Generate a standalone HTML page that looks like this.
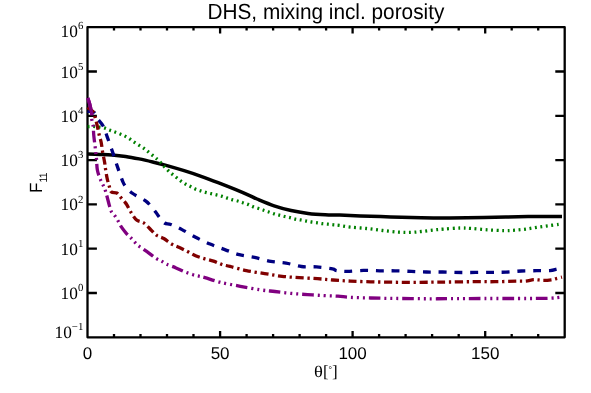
<!DOCTYPE html>
<html><head><meta charset="utf-8"><title>DHS, mixing incl. porosity</title>
<style>html,body{margin:0;padding:0;background:#fff}svg{display:block;will-change:transform;text-rendering:geometricPrecision}</style></head>
<body>
<svg width="591" height="393" viewBox="0 0 591 393">
<rect width="591" height="393" fill="#fff"/>
<g stroke="#000" stroke-width="2.3" fill="none" stroke-linecap="butt" stroke-linejoin="round">
<rect x="87.5" y="27.2" width="477.2" height="310.1"/>
<path d="M114.0 337.3 V334.1 M114.0 27.2 V30.4"/>
<path d="M140.5 337.3 V334.1 M140.5 27.2 V30.4"/>
<path d="M167.0 337.3 V334.1 M167.0 27.2 V30.4"/>
<path d="M193.5 337.3 V334.1 M193.5 27.2 V30.4"/>
<path d="M220.1 337.3 V331.1 M220.1 27.2 V33.4"/>
<path d="M246.6 337.3 V334.1 M246.6 27.2 V30.4"/>
<path d="M273.1 337.3 V334.1 M273.1 27.2 V30.4"/>
<path d="M299.6 337.3 V334.1 M299.6 27.2 V30.4"/>
<path d="M326.1 337.3 V334.1 M326.1 27.2 V30.4"/>
<path d="M352.6 337.3 V331.1 M352.6 27.2 V33.4"/>
<path d="M379.1 337.3 V334.1 M379.1 27.2 V30.4"/>
<path d="M405.6 337.3 V334.1 M405.6 27.2 V30.4"/>
<path d="M432.1 337.3 V334.1 M432.1 27.2 V30.4"/>
<path d="M458.7 337.3 V334.1 M458.7 27.2 V30.4"/>
<path d="M485.2 337.3 V331.1 M485.2 27.2 V33.4"/>
<path d="M511.7 337.3 V334.1 M511.7 27.2 V30.4"/>
<path d="M538.2 337.3 V334.1 M538.2 27.2 V30.4"/>
<path d="M87.5 293.0 H96.9 M564.7 293.0 H555.3"/>
<path d="M87.5 248.7 H96.9 M564.7 248.7 H555.3"/>
<path d="M87.5 204.4 H96.9 M564.7 204.4 H555.3"/>
<path d="M87.5 160.1 H96.9 M564.7 160.1 H555.3"/>
<path d="M87.5 115.8 H96.9 M564.7 115.8 H555.3"/>
<path d="M87.5 71.5 H96.9 M564.7 71.5 H555.3"/>
</g>
<g fill="none" stroke-linejoin="round">
<path d="M87.50 154.10 C89.58 154.15 95.92 154.27 100.00 154.40 C104.08 154.53 107.73 154.57 112.00 154.90 C116.27 155.23 121.08 155.73 125.60 156.40 C130.12 157.07 134.58 157.97 139.10 158.90 C143.62 159.83 148.05 160.88 152.70 162.00 C157.35 163.12 161.77 164.15 167.00 165.60 C172.23 167.05 178.42 168.92 184.10 170.70 C189.78 172.48 195.43 174.32 201.10 176.30 C206.77 178.28 212.42 180.42 218.10 182.60 C223.78 184.78 229.93 187.23 235.20 189.40 C240.47 191.57 246.07 194.00 249.70 195.60 C253.33 197.20 252.93 197.30 257.00 199.00 C261.07 200.70 268.42 203.88 274.10 205.80 C279.78 207.72 285.43 209.23 291.10 210.50 C296.77 211.77 302.42 212.68 308.10 213.40 C313.78 214.12 319.93 214.52 325.20 214.80 C330.47 215.08 333.82 214.92 339.70 215.10 C345.58 215.28 351.97 215.60 360.50 215.90 C369.03 216.20 380.75 216.60 390.90 216.90 C401.05 217.20 411.58 217.53 421.40 217.70 C431.22 217.87 439.37 217.95 449.80 217.90 C460.23 217.85 470.97 217.62 484.00 217.40 C497.03 217.18 515.00 216.73 528.00 216.60 C541.00 216.47 556.33 216.60 562.00 216.60" stroke="#000" stroke-width="3.5" stroke-linecap="butt"/>
<path d="M87.70 126.60 C88.58 126.57 91.28 126.35 93.00 126.40 C94.72 126.45 96.18 126.65 98.00 126.90 C99.82 127.15 102.00 127.38 103.90 127.90 C105.80 128.42 107.70 129.37 109.40 130.00 C111.10 130.63 112.42 131.08 114.10 131.70 C115.78 132.32 117.82 133.03 119.50 133.70 C121.18 134.37 122.62 134.92 124.20 135.70 C125.78 136.48 127.42 137.38 129.00 138.40 C130.58 139.42 132.12 140.72 133.70 141.80 C135.28 142.88 136.92 143.88 138.50 144.90 C140.08 145.92 141.75 146.88 143.20 147.90 C144.65 148.92 145.73 149.83 147.20 151.00 C148.67 152.17 150.53 153.70 152.00 154.90 C153.47 156.10 154.65 157.03 156.00 158.20 C157.35 159.37 158.83 160.62 160.10 161.90 C161.37 163.18 162.30 164.50 163.60 165.90 C164.90 167.30 166.48 168.93 167.90 170.30 C169.32 171.67 170.68 172.90 172.10 174.10 C173.52 175.30 174.97 176.37 176.40 177.50 C177.83 178.63 179.20 179.82 180.70 180.90 C182.20 181.98 183.85 183.10 185.40 184.00 C186.95 184.90 188.38 185.48 190.00 186.30 C191.62 187.12 193.38 188.15 195.10 188.90 C196.82 189.65 198.58 190.23 200.30 190.80 C202.02 191.37 203.62 191.82 205.40 192.30 C207.18 192.78 209.17 193.27 211.00 193.70 C212.83 194.13 214.63 194.48 216.40 194.90 C218.17 195.32 219.88 195.70 221.60 196.20 C223.32 196.70 225.00 197.33 226.70 197.90 C228.40 198.47 229.97 199.08 231.80 199.60 C233.63 200.12 235.87 200.48 237.70 201.00 C239.53 201.52 241.08 202.13 242.80 202.70 C244.52 203.27 246.33 203.75 248.00 204.40 C249.67 205.05 251.15 205.95 252.80 206.60 C254.45 207.25 256.20 207.73 257.90 208.30 C259.60 208.87 261.30 209.43 263.00 210.00 C264.70 210.57 266.25 211.07 268.10 211.70 C269.95 212.33 272.25 213.23 274.10 213.80 C275.95 214.37 277.45 214.65 279.20 215.10 C280.95 215.55 282.75 216.07 284.60 216.50 C286.45 216.93 288.50 217.27 290.30 217.70 C292.10 218.13 293.70 218.73 295.40 219.10 C297.10 219.47 298.67 219.57 300.50 219.90 C302.33 220.23 304.55 220.75 306.40 221.10 C308.25 221.45 309.75 221.72 311.60 222.00 C313.45 222.28 315.67 222.52 317.50 222.80 C319.33 223.08 320.82 223.47 322.60 223.70 C324.38 223.93 326.35 224.00 328.20 224.20 C330.05 224.40 331.88 224.70 333.70 224.90 C335.52 225.10 336.33 225.03 339.10 225.40 C341.87 225.77 345.73 226.58 350.30 227.10 C354.87 227.62 361.08 227.93 366.50 228.50 C371.92 229.07 377.38 229.88 382.80 230.50 C388.22 231.12 394.27 231.88 399.00 232.20 C403.73 232.52 407.47 232.52 411.20 232.40 C414.93 232.28 417.85 231.88 421.40 231.50 C424.95 231.12 428.82 230.50 432.50 230.10 C436.18 229.70 438.95 229.45 443.50 229.10 C448.05 228.75 455.25 228.12 459.80 228.00 C464.35 227.88 466.22 228.10 470.80 228.40 C475.38 228.70 481.80 229.43 487.30 229.80 C492.80 230.17 499.22 230.53 503.80 230.60 C508.38 230.67 511.13 230.45 514.80 230.20 C518.47 229.95 522.13 229.58 525.80 229.10 C529.47 228.62 533.13 227.85 536.80 227.30 C540.47 226.75 544.13 226.30 547.80 225.80 C551.47 225.30 556.43 224.60 558.80 224.30 C561.17 224.00 561.47 224.05 562.00 224.00" stroke="#008000" stroke-width="3.3" stroke-dasharray="1.9 3.6"/>
<path d="M87.50 111.40 C88.63 111.58 92.57 111.20 94.30 112.50 C96.03 113.80 96.40 116.92 97.90 119.20 C99.40 121.48 101.73 123.22 103.30 126.20 C104.87 129.18 105.73 132.73 107.30 137.10 C108.87 141.47 111.00 147.43 112.70 152.40 C114.40 157.37 115.80 162.00 117.50 166.90 C119.20 171.80 121.32 178.25 122.90 181.80 C124.48 185.35 125.42 186.28 127.00 188.20 C128.58 190.12 130.57 191.90 132.40 193.30 C134.23 194.70 135.75 195.30 138.00 196.60 C140.25 197.90 143.73 199.50 145.90 201.10 C148.07 202.70 149.28 204.25 151.00 206.20 C152.72 208.15 154.87 211.03 156.20 212.80 C157.53 214.57 157.63 215.10 159.00 216.80 C160.37 218.50 162.42 221.72 164.40 223.00 C166.38 224.28 167.97 223.40 170.90 224.50 C173.83 225.60 177.88 227.47 182.00 229.60 C186.12 231.73 190.92 234.88 195.60 237.30 C200.28 239.72 205.23 242.05 210.10 244.10 C214.97 246.15 219.93 247.83 224.80 249.60 C229.67 251.37 234.33 253.40 239.30 254.70 C244.27 256.00 249.35 256.28 254.60 257.40 C259.85 258.52 265.55 260.45 270.80 261.40 C276.05 262.35 281.00 262.25 286.10 263.10 C291.20 263.95 296.32 265.87 301.40 266.50 C306.48 267.13 311.42 266.52 316.60 266.90 C321.78 267.28 329.18 268.18 332.50 268.80 C335.82 269.42 334.03 270.17 336.50 270.60 C338.97 271.03 342.80 271.43 347.30 271.40 C351.80 271.37 358.10 270.50 363.50 270.40 C368.90 270.30 374.45 270.73 379.70 270.80 C384.95 270.87 389.75 270.70 395.00 270.80 C400.25 270.90 405.97 271.20 411.20 271.40 C416.43 271.60 421.15 271.90 426.40 272.00 C431.65 272.10 436.77 271.92 442.70 272.00 C448.63 272.08 454.02 272.45 462.00 272.50 C469.98 272.55 483.27 272.37 490.60 272.30 C497.93 272.23 500.87 272.32 506.00 272.10 C511.13 271.88 516.27 271.23 521.40 271.00 C526.53 270.77 532.03 270.77 536.80 270.70 C541.57 270.63 546.70 270.85 550.00 270.60 C553.30 270.35 554.60 269.67 556.60 269.20 C558.60 268.73 561.10 268.03 562.00 267.80" stroke="#000080" stroke-width="3.3" stroke-dasharray="7.9 7.83"/>
<path d="M87.50 107.50 C88.50 108.27 92.23 110.43 93.50 112.10 C94.77 113.77 94.48 115.25 95.10 117.50 C95.72 119.75 96.52 122.68 97.20 125.60 C97.88 128.52 98.53 132.18 99.20 135.00 C99.87 137.82 100.63 139.67 101.20 142.50 C101.77 145.33 102.03 148.72 102.60 152.00 C103.17 155.28 104.10 159.27 104.60 162.20 C105.10 165.13 105.15 166.78 105.60 169.60 C106.05 172.42 106.67 176.23 107.30 179.10 C107.93 181.97 108.72 184.65 109.40 186.80 C110.08 188.95 110.17 190.97 111.40 192.00 C112.63 193.03 115.22 192.07 116.80 193.00 C118.38 193.93 119.55 196.08 120.90 197.60 C122.25 199.12 123.90 200.88 124.90 202.10 C125.90 203.32 125.88 203.20 126.90 204.90 C127.92 206.60 129.38 209.78 131.00 212.30 C132.62 214.82 134.47 218.22 136.60 220.00 C138.73 221.78 141.43 221.38 143.80 223.00 C146.17 224.62 148.62 227.62 150.80 229.70 C152.98 231.78 154.73 234.03 156.90 235.50 C159.07 236.97 161.33 237.07 163.80 238.50 C166.27 239.93 169.10 242.60 171.70 244.10 C174.30 245.60 176.70 246.23 179.40 247.50 C182.10 248.77 185.20 250.33 187.90 251.70 C190.60 253.07 192.90 254.55 195.60 255.70 C198.30 256.85 201.12 257.70 204.10 258.60 C207.08 259.50 210.52 260.12 213.50 261.10 C216.48 262.08 219.25 263.62 222.00 264.50 C224.75 265.38 225.93 265.38 230.00 266.40 C234.07 267.42 240.62 269.40 246.40 270.60 C252.18 271.80 258.77 272.65 264.70 273.60 C270.63 274.55 276.23 275.62 282.00 276.30 C287.77 276.98 293.37 277.30 299.30 277.70 C305.23 278.10 311.98 278.32 317.60 278.70 C323.22 279.08 327.55 279.60 333.00 280.00 C338.45 280.40 344.03 280.80 350.30 281.10 C356.57 281.40 363.83 281.62 370.60 281.80 C377.37 281.98 384.13 282.10 390.90 282.20 C397.67 282.30 404.43 282.40 411.20 282.40 C417.97 282.40 425.07 282.27 431.50 282.20 C437.93 282.13 442.88 282.08 449.80 282.00 C456.72 281.92 465.47 281.75 473.00 281.70 C480.53 281.65 487.67 281.78 495.00 281.70 C502.33 281.62 511.88 281.30 517.00 281.20 C522.12 281.10 522.97 281.35 525.70 281.10 C528.43 280.85 531.27 279.90 533.40 279.70 C535.53 279.50 536.80 279.78 538.50 279.90 C540.20 280.02 541.48 280.42 543.60 280.40 C545.72 280.38 549.08 280.10 551.20 279.80 C553.32 279.50 554.50 279.03 556.30 278.60 C558.10 278.17 561.05 277.43 562.00 277.20" stroke="#800000" stroke-width="3.3" stroke-dasharray="8.1 3.65 2.3 3.67"/>
<path d="M87.80 98.00 C88.12 99.00 89.05 101.38 89.70 104.00 C90.35 106.62 91.35 111.12 91.70 113.70 C92.05 116.28 91.57 117.52 91.80 119.50 C92.03 121.48 92.77 122.90 93.10 125.60 C93.43 128.30 93.47 132.22 93.80 135.70 C94.13 139.18 94.77 143.62 95.10 146.50 C95.43 149.38 95.57 150.92 95.80 153.00 C96.03 155.08 96.23 156.12 96.50 159.00 C96.77 161.88 96.72 166.80 97.40 170.30 C98.08 173.80 99.62 177.47 100.60 180.00 C101.58 182.53 102.52 183.75 103.30 185.50 C104.08 187.25 104.63 188.50 105.30 190.50 C105.97 192.50 106.62 194.98 107.30 197.50 C107.98 200.02 108.72 203.23 109.40 205.60 C110.08 207.97 110.50 210.02 111.40 211.70 C112.30 213.38 113.67 214.13 114.80 215.70 C115.93 217.27 117.08 219.18 118.20 221.10 C119.32 223.02 120.15 225.17 121.50 227.20 C122.85 229.23 124.72 231.50 126.30 233.30 C127.88 235.10 129.60 236.52 131.00 238.00 C132.40 239.48 133.45 240.90 134.70 242.20 C135.95 243.50 136.45 244.22 138.50 245.80 C140.55 247.38 144.02 249.57 147.00 251.70 C149.98 253.83 153.98 257.03 156.40 258.60 C158.82 260.17 159.80 260.17 161.50 261.10 C163.20 262.03 164.18 263.07 166.60 264.20 C169.02 265.33 173.02 266.65 176.00 267.90 C178.98 269.15 181.67 270.57 184.50 271.70 C187.33 272.83 190.73 274.00 193.00 274.70 C195.27 275.40 196.10 275.42 198.10 275.90 C200.10 276.38 201.35 276.55 205.00 277.60 C208.65 278.65 214.12 280.75 220.00 282.20 C225.88 283.65 233.52 285.02 240.30 286.30 C247.08 287.58 254.93 289.03 260.70 289.90 C266.47 290.77 269.82 290.92 274.90 291.50 C279.98 292.08 285.77 292.88 291.20 293.40 C296.63 293.92 302.08 294.23 307.50 294.60 C312.92 294.97 318.62 295.33 323.70 295.60 C328.78 295.87 333.57 295.90 338.00 296.20 C342.43 296.50 344.87 297.10 350.30 297.40 C355.73 297.70 363.83 297.83 370.60 298.00 C377.37 298.17 384.13 298.30 390.90 298.40 C397.67 298.50 404.43 298.53 411.20 298.60 C417.97 298.67 425.07 298.80 431.50 298.80 C437.93 298.80 441.05 298.65 449.80 298.60 C458.55 298.55 470.97 298.52 484.00 298.50 C497.03 298.48 517.00 298.55 528.00 298.50 C539.00 298.45 544.33 298.42 550.00 298.20 C555.67 297.98 560.00 297.37 562.00 297.20" stroke="#800080" stroke-width="3.3" stroke-dasharray="11.6 3.95 2 3.95 2 3.95 2 3.95"/>
<path d="M87.80 98.00 C88.12 99.00 89.05 101.38 89.70 104.00 C90.35 106.62 91.35 111.12 91.70 113.70 C92.05 116.28 91.57 117.52 91.80 119.50 C92.03 121.48 92.77 122.90 93.10 125.60 C93.43 128.30 93.47 132.22 93.80 135.70 C94.13 139.18 94.77 143.62 95.10 146.50 C95.43 149.38 95.57 150.92 95.80 153.00 C96.03 155.08 96.23 156.12 96.50 159.00 C96.77 161.88 96.72 166.80 97.40 170.30 C98.08 173.80 99.62 177.47 100.60 180.00 C101.58 182.53 102.52 183.75 103.30 185.50 C104.08 187.25 104.63 188.50 105.30 190.50 C105.97 192.50 106.62 194.98 107.30 197.50 C107.98 200.02 108.72 203.23 109.40 205.60 C110.08 207.97 110.50 210.02 111.40 211.70 C112.30 213.38 113.67 214.13 114.80 215.70 C115.93 217.27 117.08 219.18 118.20 221.10 C119.32 223.02 120.15 225.17 121.50 227.20 C122.85 229.23 124.72 231.50 126.30 233.30 C127.88 235.10 129.60 236.52 131.00 238.00 C132.40 239.48 133.45 240.90 134.70 242.20 C135.95 243.50 136.45 244.22 138.50 245.80 C140.55 247.38 144.02 249.57 147.00 251.70 C149.98 253.83 153.98 257.03 156.40 258.60 C158.82 260.17 159.80 260.17 161.50 261.10 C163.20 262.03 164.18 263.07 166.60 264.20 C169.02 265.33 173.02 266.65 176.00 267.90 C178.98 269.15 181.67 270.57 184.50 271.70 C187.33 272.83 190.73 274.00 193.00 274.70 C195.27 275.40 196.10 275.42 198.10 275.90 C200.10 276.38 201.35 276.55 205.00 277.60 C208.65 278.65 214.12 280.75 220.00 282.20 C225.88 283.65 233.52 285.02 240.30 286.30 C247.08 287.58 254.93 289.03 260.70 289.90 C266.47 290.77 269.82 290.92 274.90 291.50 C279.98 292.08 285.77 292.88 291.20 293.40 C296.63 293.92 302.08 294.23 307.50 294.60 C312.92 294.97 318.62 295.33 323.70 295.60 C328.78 295.87 333.57 295.90 338.00 296.20 C342.43 296.50 344.87 297.10 350.30 297.40 C355.73 297.70 363.83 297.83 370.60 298.00 C377.37 298.17 384.13 298.30 390.90 298.40 C397.67 298.50 404.43 298.53 411.20 298.60 C417.97 298.67 425.07 298.80 431.50 298.80 C437.93 298.80 441.05 298.65 449.80 298.60 C458.55 298.55 470.97 298.52 484.00 298.50 C497.03 298.48 517.00 298.55 528.00 298.50 C539.00 298.45 544.33 298.42 550.00 298.20 C555.67 297.98 560.00 297.37 562.00 297.20" stroke="#800080" stroke-width="3.3" stroke-dasharray="17.55 100000"/>
</g>
<g font-family="'Liberation Sans', sans-serif" fill="#000">
<text transform="translate(325.9,18.7) scale(1,1.05)" font-size="20.8" text-anchor="middle">DHS, mixing incl. porosity</text>
<text x="87.5" y="358.6" font-size="17" text-anchor="middle">0</text>
<text x="220.1" y="358.6" font-size="17" text-anchor="middle">50</text>
<text x="352.6" y="358.6" font-size="17" text-anchor="middle">100</text>
<text x="485.2" y="358.6" font-size="17" text-anchor="middle">150</text>
<text transform="translate(42.1,193.0) rotate(-90) scale(1,1.04)" font-size="17">F<tspan font-size="10.5" dy="4.3" letter-spacing="-0.6">11</tspan></text>
</g>
<g font-family="'Liberation Serif', serif" fill="#000">
<text x="83.3" y="337.8" font-size="17.3" text-anchor="end">10<tspan font-size="10.8" dy="-7.9">−1</tspan></text>
<text x="83.3" y="299.0" font-size="17.3" text-anchor="end">10<tspan font-size="10.8" dy="-7.9">0</tspan></text>
<text x="83.3" y="254.7" font-size="17.3" text-anchor="end">10<tspan font-size="10.8" dy="-7.9">1</tspan></text>
<text x="83.3" y="210.4" font-size="17.3" text-anchor="end">10<tspan font-size="10.8" dy="-7.9">2</tspan></text>
<text x="83.3" y="166.1" font-size="17.3" text-anchor="end">10<tspan font-size="10.8" dy="-7.9">3</tspan></text>
<text x="83.3" y="121.8" font-size="17.3" text-anchor="end">10<tspan font-size="10.8" dy="-7.9">4</tspan></text>
<text x="83.3" y="77.5" font-size="17.3" text-anchor="end">10<tspan font-size="10.8" dy="-7.9">5</tspan></text>
<text x="83.3" y="36.9" font-size="17.3" text-anchor="end">10<tspan font-size="10.8" dy="-7.9">6</tspan></text>
<text transform="translate(314.0,376.6) scale(1.09,0.95)" font-size="17">θ</text>
<text x="322.9" y="376.6" font-size="17">[<tspan font-size="8.6" dy="-4.6">°</tspan><tspan dy="4.6">]</tspan></text>
</g>
</svg>
</body></html>
